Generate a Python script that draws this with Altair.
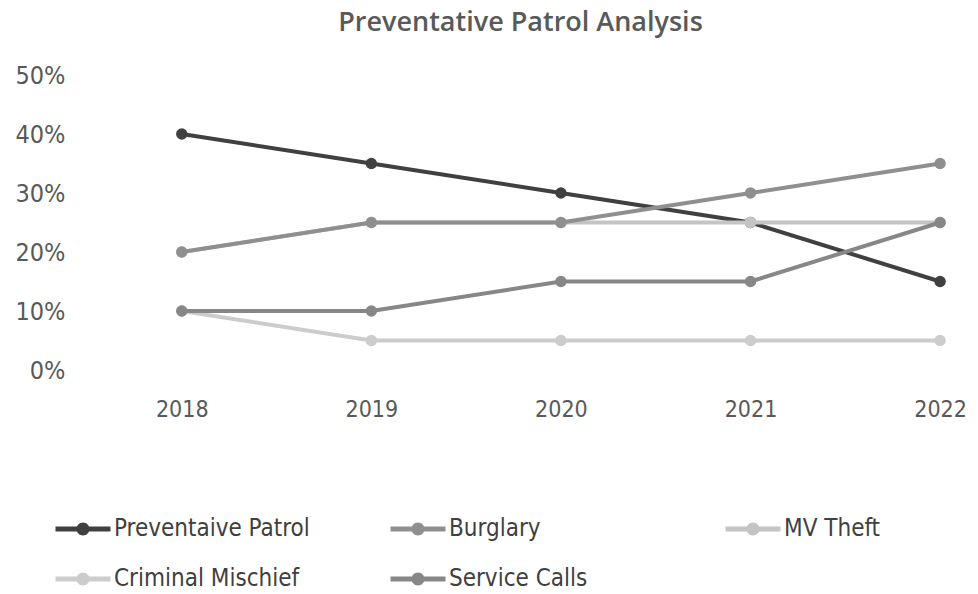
import altair as alt
import pandas as pd

FONT = "'Liberation Sans Narrow', 'DejaVu Sans Condensed', Lato, sans-serif"
TITLE_FONT = "'Open Sans', Lato, sans-serif"

# Category axis and series values (share of activity per year)
years = [2018, 2019, 2020, 2021, 2022]
series_names = ["Preventaive Patrol", "Burglary", "MV Theft", "Criminal Mischief", "Service Calls"]
series_colors = ["#404040", "#8f8f8f", "#c4c4c4", "#cccccc", "#878787"]

patrol = [0.40, 0.35, 0.30, 0.25, 0.15]
burglary = [0.20, 0.25, 0.25, 0.30, 0.35]
mv_theft = [0.20, 0.25, 0.25, 0.25, 0.25]
criminal_mischief = [0.10, 0.05, 0.05, 0.05, 0.05]
service_calls = [0.10, 0.10, 0.15, 0.15, 0.25]

y_ticks = [0.0, 0.1, 0.2, 0.3, 0.4, 0.5]

rows = []
for name, vals in zip(series_names, [patrol, burglary, mv_theft, criminal_mischief, service_calls]):
    for yr, v in zip(years, vals):
        rows.append({"year": yr, "series": name, "value": v})
df = pd.DataFrame(rows)

# Legend symbol: a short line with a dot in the middle (drawn wider than its nominal size)
LEGEND_SYMBOL = (
    "M-2.75,-0.25H2.75V0.25H-2.75Z "
    "M0.65,0A0.65,0.65,0,1,1,-0.65,0A0.65,0.65,0,1,1,0.65,0Z"
)

color = alt.Color(
    "series:N",
    scale=alt.Scale(domain=series_names, range=series_colors),
    legend=alt.Legend(
        title=None,
        orient="none",
        legendX=-16,
        legendY=442,
        direction="horizontal",
        columns=3,
        gridAlign="all",
        columnPadding=80,
        rowPadding=26,
        symbolType=LEGEND_SYMBOL,
        symbolSize=400,
        symbolStrokeWidth=0,
        symbolOpacity=1,
        labelFont=FONT,
        labelFontSize=24,
        labelColor="#404040",
        labelOffset=19,
        labelLimit=400,
    ),
)

x = alt.X(
    "year:Q",
    scale=alt.Scale(domain=[2017.5, 2022.2], nice=False, zero=False),
    axis=alt.Axis(
        values=years, format="d", title=None, domain=False, ticks=False, grid=False,
        labelFont=FONT, labelFontSize=23, labelColor="#595959", labelPadding=28,
        labelFlush=False, labelOverlap=False,
    ),
)
y = alt.Y(
    "value:Q",
    scale=alt.Scale(domain=[0, 0.5], nice=False),
    axis=alt.Axis(
        values=y_ticks, format=".0%", title=None, domain=False, ticks=False, grid=False,
        labelFont=FONT, labelFontSize=25, labelColor="#595959", labelPadding=22,
        labelFlush=False, labelOverlap=False,
    ),
)

# Drawing order of the series (later ones sit on top)
z_order = ["Preventaive Patrol", "MV Theft", "Burglary", "Criminal Mischief", "Service Calls"]

layers = []
for name in z_order:
    base = alt.Chart(df).transform_filter(alt.datum.series == name)
    layers.append(base.mark_line(strokeWidth=4).encode(x=x, y=y, color=color))
    layers.append(
        base.mark_point(filled=True, size=130, opacity=1).encode(x=x, y=y, color=color)
    )

chart = (
    alt.layer(*layers)
    .properties(
        width=891,
        height=295,
        autosize=alt.AutoSizeParams(type="none"),
        padding={"left": 87, "top": 75, "right": 0, "bottom": 224},
        title=alt.TitleParams(
            "Preventative Patrol Analysis",
            font=TITLE_FONT,
            fontSize=27,
            fontWeight=600,
            color="#595959",
            anchor="middle",
            offset=26,
            dx=-12,
        ),
    )
    .configure(background="white")
    .configure_view(strokeWidth=0, stroke="transparent")
)

chart.save("out.html", embed_options={"renderer": "svg", "actions": False})
